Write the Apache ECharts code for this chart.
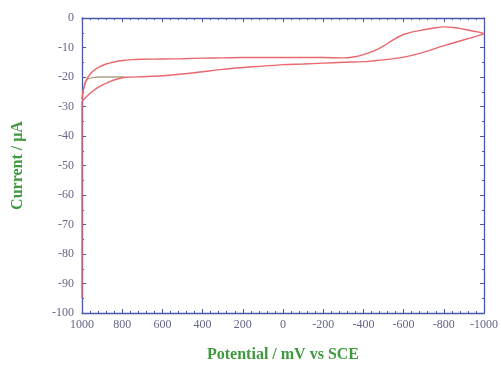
<!DOCTYPE html>
<html><head><meta charset="utf-8">
<script src="https://cdn.jsdelivr.net/npm/echarts@6/dist/echarts.min.js"></script>
<style>html,body{margin:0;padding:0;background:#fff}#c{width:501px;height:373px}</style>
</head><body><div id="c"></div>
<script>
// Initial segment (start of scan)
const startE = [790, 850, 900, 950, 975, 990, 1000];
const startI = [-20.0, -20.0, -20.0, -20.2, -21.0, -23.5, -27.5];
// Main loop: forward sweep (upper branch) then return (lower branch)
const loopE = [1000, 995, 985, 970, 950, 920, 880, 840, 800, 750, 700, 600, 500, 400, 300, 200, 100, 0, -100, -200, -300, -350, -400, -450, -500, -550, -600, -650, -700, -750, -800, -850, -900, -950, -1000,
  -970, -930, -880, -830, -780, -730, -680, -620, -560, -500, -450, -400, -300, -200, -100, 0, 100, 200, 300, 400, 500, 600, 700, 780, 820, 870, 920, 960, 985, 1000, 1000];
const loopI = [-27.5, -25.0, -22.0, -20.0, -18.3, -16.8, -15.6, -14.9, -14.4, -14.1, -14.0, -13.9, -13.8, -13.6, -13.5, -13.4, -13.4, -13.4, -13.4, -13.4, -13.5, -13.2, -12.4, -11.2, -9.5, -7.3, -5.6, -4.6, -4.0, -3.4, -3.0, -3.2, -3.8, -4.5, -5.3,
  -6.0, -6.8, -7.8, -8.8, -9.8, -11.0, -12.0, -13.0, -13.7, -14.2, -14.5, -14.8, -15.0, -15.3, -15.6, -15.8, -16.3, -16.8, -17.4, -18.2, -19.0, -19.6, -19.9, -20.1, -20.6, -21.8, -23.5, -25.5, -27.2, -28.5, -95];
const xTicks = [1000, 800, 600, 400, 200, 0, -200, -400, -600, -800, -1000];
const yTicks = [0, -10, -20, -30, -40, -50, -60, -70, -80, -90, -100];

const axisBlue = '#4a58a8';
const labelCol = '#66668a';
const green = '#3f9a3f';
const pair = (a, b) => a.map((v, i) => [v, b[i]]);

const chart = echarts.init(document.getElementById('c'));
const common = {
  axisLine: {show: true, onZero: false, lineStyle: {color: axisBlue, width: 1.3}},
  axisTick: {show: true, inside: true, length: 4, lineStyle: {color: axisBlue}},
  splitLine: {show: false}
};
chart.setOption({
  animation: false,
  backgroundColor: '#fff',
  grid: {left: 82, right: 13, top: 18, bottom: 60},
  xAxis: [
    Object.assign({}, common, {
      type: 'value', min: -1000, max: 1000, interval: 200, inverse: true, position: 'bottom',
      minorTick: {show: true, splitNumber: 5, length: 2, lineStyle: {color: axisBlue}},
      axisLabel: {color: labelCol, fontFamily: 'Liberation Serif', fontSize: 12, margin: 6,
        formatter: v => xTicks.includes(v) ? String(v) : ''},
      name: 'Potential / mV vs SCE', nameLocation: 'middle', nameGap: 34,
      nameTextStyle: {color: green, fontFamily: 'Liberation Serif', fontWeight: 'bold', fontSize: 16}
    }),
    Object.assign({}, common, {
      type: 'value', min: -1000, max: 1000, interval: 200, inverse: true, position: 'top',
      minorTick: {show: true, splitNumber: 5, length: 2, lineStyle: {color: axisBlue}},
      axisLabel: {show: false}
    })
  ],
  yAxis: [
    Object.assign({}, common, {
      type: 'value', min: -100, max: 0, interval: 10, position: 'left',
      minorTick: {show: true, splitNumber: 2, length: 2, lineStyle: {color: axisBlue}},
      axisLabel: {color: labelCol, fontFamily: 'Liberation Serif', fontSize: 12, margin: 8,
        formatter: v => yTicks.includes(v) ? String(v) : ''},
      name: 'Current / μA', nameLocation: 'middle', nameGap: 56, nameRotate: 90,
      nameTextStyle: {color: green, fontFamily: 'Liberation Serif', fontWeight: 'bold', fontSize: 16}
    }),
    Object.assign({}, common, {
      type: 'value', min: -100, max: 0, interval: 10, position: 'right',
      minorTick: {show: true, splitNumber: 2, length: 2, lineStyle: {color: axisBlue}},
      axisLabel: {show: false}
    })
  ],
  series: [
    {type: 'line', data: pair(startE, startI), showSymbol: false, smooth: 0.3,
      lineStyle: {color: '#b0a488', width: 1.3}, z: 3},
    {type: 'line', data: pair(loopE, loopI), showSymbol: false, smooth: 0.3,
      lineStyle: {color: '#e8686e', width: 1.4}, z: 4}
  ]
});
</script></body></html>
